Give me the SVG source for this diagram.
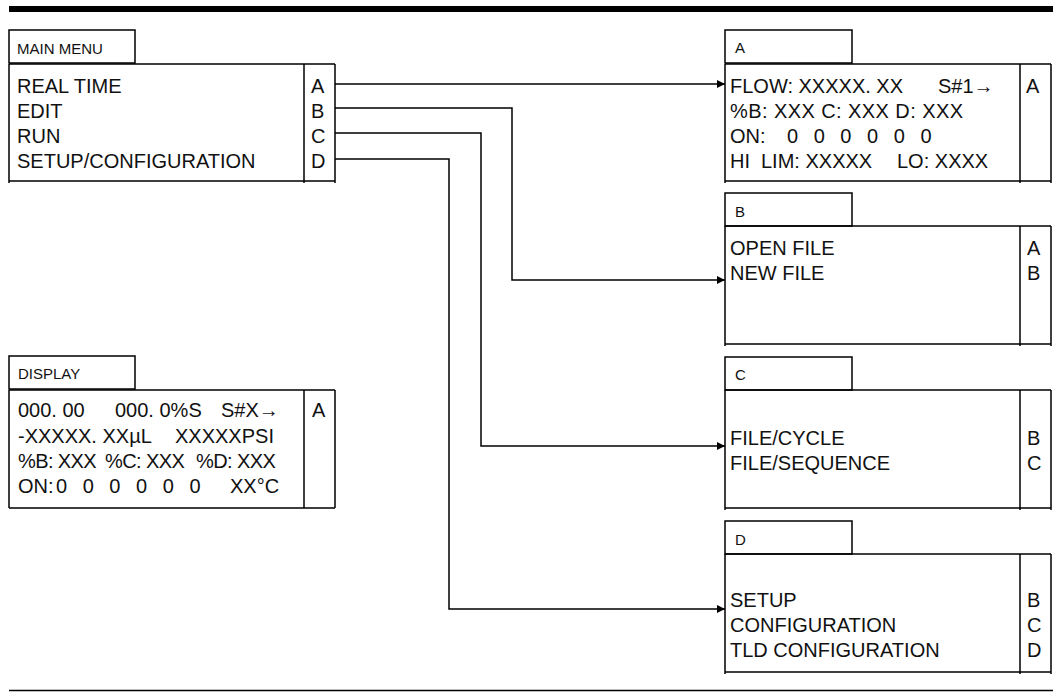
<svg xmlns="http://www.w3.org/2000/svg" width="1053" height="692" viewBox="0 0 1053 692">
<defs>
<style>
.bx{fill:none;stroke:#000;stroke-width:1.5}
.cn{fill:none;stroke:#000;stroke-width:1.5}
.t{font-family:"Liberation Sans",Arial,sans-serif;font-size:20px;fill:#111}
.h{font-family:"Liberation Sans",Arial,sans-serif;font-size:15px;fill:#111}
.z{word-spacing:10px}
.n{letter-spacing:-0.6px}
</style>
<marker id="ar" viewBox="0 0 8 8" refX="8" refY="4" markerWidth="8" markerHeight="8" markerUnits="userSpaceOnUse" orient="auto">
<path d="M0,0 L8,4 L0,8 Z" fill="#000"/>
</marker>
</defs>
<rect x="9" y="6" width="1044" height="6" fill="#000"/>
<line x1="9" y1="690.5" x2="1053" y2="690.5" stroke="#000" stroke-width="1.5"/>

<g id="main-menu">
<rect class="bx" x="9" y="30" width="126" height="33"/>
<text class="h" x="17" y="54">MAIN MENU</text>
<path class="bx" d="M9,64 H335 M9,181 H335 M9,64 V183 M304,64 V183 M335,64 V183"/>
<text class="t" x="17" y="93">REAL TIME</text>
<text class="t" x="17" y="118">EDIT</text>
<text class="t" x="17" y="143">RUN</text>
<text class="t" x="17" y="168">SETUP/CONFIGURATION</text>
<text class="t" x="311" y="93">A</text>
<text class="t" x="311" y="118">B</text>
<text class="t" x="311" y="143">C</text>
<text class="t" x="311" y="168">D</text>
</g>

<g id="display">
<rect class="bx" x="9" y="356" width="126" height="33"/>
<text class="h" x="18" y="379">DISPLAY</text>
<path class="bx" d="M9,390 H335 M9,508 H335 M9,390 V508 M304,390 V508 M335,390 V508"/>
<text class="t" x="18" y="417">000. 00 <tspan x="115">000. 0%S </tspan><tspan x="221">S#X→</tspan></text>
<text class="t" x="18" y="443">-XXXXX. XXµL <tspan x="175">XXXXXPSI</tspan></text>
<text class="t n" x="18" y="468">%B: XXX <tspan x="105">%C: XXX </tspan><tspan x="196">%D: XXX</tspan></text>
<text class="t" x="18" y="493">ON: <tspan class="z" x="56">0 0 0 0 0 0 </tspan><tspan x="230">XX°C</tspan></text>
<text class="t" x="312" y="417">A</text>
</g>

<g id="menu-a">
<rect class="bx" x="725" y="30" width="127" height="33"/>
<text class="h" x="735" y="53">A</text>
<path class="bx" d="M725,64 H1051 M725,181 H1051 M725,64 V183 M1020,64 V183 M1051,64 V183"/>
<text class="t" x="730" y="93">FLOW: XXXXX. XX <tspan x="938">S#1→</tspan></text>
<text class="t" x="730" y="118" textLength="233" lengthAdjust="spacing">%B: XXX C: XXX D: XXX</text>
<text class="t" x="730" y="143">ON: <tspan class="z" x="787">0 0 0 0 0 0</tspan></text>
<text class="t" x="730" y="168">HI <tspan x="761">LIM: XXXXX </tspan><tspan x="897">LO: XXXX</tspan></text>
<text class="t" x="1026" y="93">A</text>
</g>

<g id="menu-b">
<rect class="bx" x="725" y="193" width="127" height="33"/>
<text class="h" x="735" y="217">B</text>
<path class="bx" d="M725,226 H1051 M725,344 H1051 M725,226 V346 M1020,226 V346 M1051,226 V346"/>
<text class="t" x="730" y="255">OPEN FILE</text>
<text class="t" x="730" y="280">NEW FILE</text>
<text class="t" x="1027" y="255">A</text>
<text class="t" x="1027" y="280">B</text>
</g>

<g id="menu-c">
<rect class="bx" x="725" y="357" width="127" height="33"/>
<text class="h" x="735" y="380">C</text>
<path class="bx" d="M725,390 H1051 M725,508 H1051 M725,390 V510 M1020,390 V510 M1051,390 V510"/>
<text class="t" x="730" y="445">FILE/CYCLE</text>
<text class="t" x="730" y="470">FILE/SEQUENCE</text>
<text class="t" x="1027" y="445">B</text>
<text class="t" x="1027" y="470">C</text>
</g>

<g id="menu-d">
<rect class="bx" x="725" y="521" width="127" height="33"/>
<text class="h" x="735" y="545">D</text>
<path class="bx" d="M725,554 H1051 M725,672 H1051 M725,554 V674 M1020,554 V674 M1051,554 V674"/>
<text class="t" x="730" y="607">SETUP</text>
<text class="t" x="730" y="632">CONFIGURATION</text>
<text class="t" x="730" y="657">TLD CONFIGURATION</text>
<text class="t" x="1027" y="607">B</text>
<text class="t" x="1027" y="632">C</text>
<text class="t" x="1027" y="657">D</text>
</g>

<g id="connectors">
<path class="cn" d="M335,84 H725" marker-end="url(#ar)"/>
<path class="cn" d="M335,108 H512 V280 H725" marker-end="url(#ar)"/>
<path class="cn" d="M335,133 H481 V446 H725" marker-end="url(#ar)"/>
<path class="cn" d="M335,159 H449 V609 H725" marker-end="url(#ar)"/>
</g>
</svg>
